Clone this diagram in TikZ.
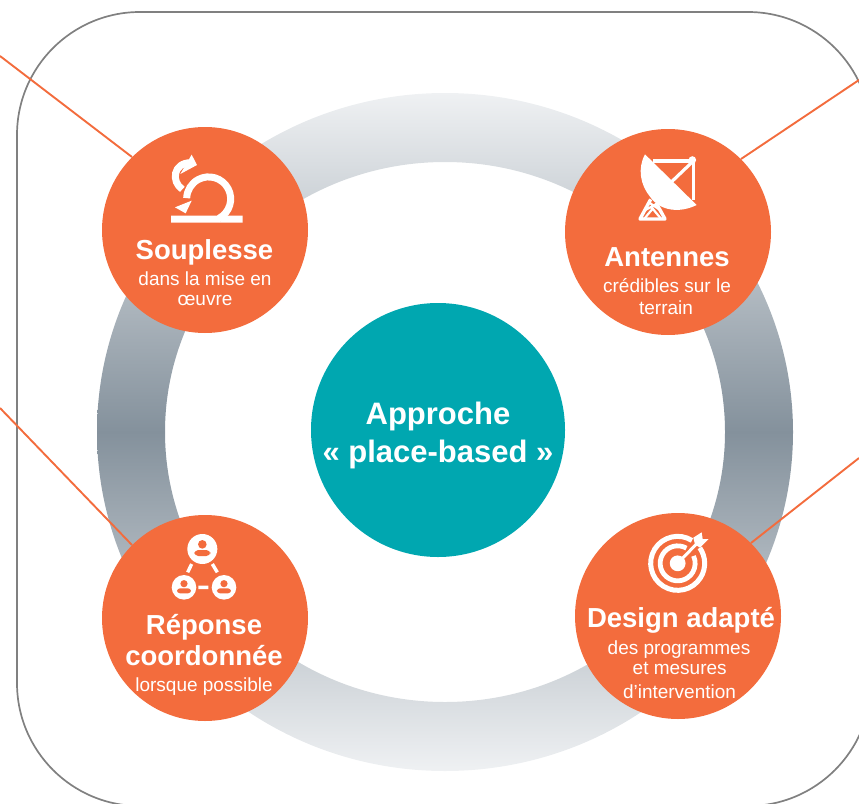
\documentclass[tikz,border=0pt]{standalone}
\usepackage{fontspec}
\setmainfont{Liberation Sans}
\definecolor{orangeC}{HTML}{F36C3D}
\definecolor{tealC}{HTML}{00A7B0}
\definecolor{ringD}{HTML}{84919C}
\definecolor{ringL}{HTML}{EFF1F3}
\definecolor{frameC}{HTML}{808080}
\tikzset{
  badge/.style={circle,fill=orangeC,draw=none,minimum size=206pt,inner sep=0pt},
  hub/.style={circle,fill=tealC,draw=none,minimum size=254pt,inner sep=0pt},
  leader/.style={draw=orangeC,line width=1.9pt},
  head/.style={anchor=base,text=white,font=\fontsize{27.5}{27.5}\selectfont\bfseries,inner sep=0pt},
  sub/.style={anchor=base,text=white,font=\fontsize{19}{19}\selectfont,inner sep=0pt},
  hubtxt/.style={anchor=base,text=white,font=\fontsize{31}{31}\selectfont\bfseries,inner sep=0pt}
}
\begin{document}
\begin{tikzpicture}[x=1pt,y=1pt,yscale=-1]
\useasboundingbox (0,0) rectangle (859,803);
\clip (0,0) rectangle (859,803);
% frame
\draw[frameC,line width=1.7pt,rounded corners=123pt] (17,12) rectangle (871,806);
% ring
\path[even odd rule,top color=ringL,bottom color=ringL,middle color=ringD]
  (445,432) ellipse [x radius=348,y radius=339]
  (445,432) ellipse [x radius=280,y radius=270];
% free ends
\coordinate (e1) at (0,56);
\coordinate (e2) at (859,80);
\coordinate (e3) at (0,408);
\coordinate (e4) at (859,458);
% badges
\node[badge] (sou) at (205,230) {};
\node[badge] (ant) at (668,232) {};
\node[badge] (rep) at (205,618) {};
\node[badge] (des) at (678,616) {};
\node[hub] (hubn) at (438,430) {};
% leaders
\draw[leader] (e1) -- (sou.135);
\draw[leader] (e2) -- (ant.45);
\draw[leader] (e3) -- (rep.135);
\draw[leader] (e4) -- (des.45);
% hub text
\node[hubtxt] (h1) at (438,424) {Approche};
\node[hubtxt] (h2) at (438,462) {« place-based »};
% badge text
\node[head] (t1) at (204.5,259) {Souplesse};
\node[sub] (t1a) at (205,285) {dans la mise en};
\node[sub] (t1b) at (205,305.7) {œuvre};
\node[head] (t2) at (667,266.7) {Antennes};
\node[sub] (t2a) at (667,292.7) {crédibles sur le};
\node[sub] (t2b) at (666,314) {terrain};
\node[head] (t3) at (204,634) {Réponse};
\node[head] (t3b) at (204,665.7) {coordonnée};
\node[sub] (t3a) at (204,691.7) {lorsque possible};
\node[head] (t4) at (681,627) {Design adapté};
\node[sub] (t4a) at (679,654) {des programmes};
\node[sub] (t4b) at (679.7,674.7) {et mesures};
\node[sub] (t4c) at (679.5,698) {d’intervention};
% icon 1: loop
\begin{scope}[shift={(165,150)},x=0.3333pt,y=0.3333pt]
  \fill[white] (18,197) -- (182,197) -- (162,218) -- (18,218) -- cycle;
  \fill[white] (182,197) -- (233,197) -- (233,218) -- (162,218) -- cycle;
  \draw[white,line width=7pt] (162,205) arc [start angle=62,end angle=-178,radius=22pt];
  \fill[white] (30,172) -- (80,152) -- (62,190) -- cycle;
  \draw[white,line width=7pt] (52,118) .. controls (18,95) and (24,38) .. (78,38);
  \fill[white] (80,14) -- (96,45) -- (46,72) -- cycle;
\end{scope}
% icon 2: antenna
\begin{scope}[shift={(630,150)},x=0.3333pt,y=0.3333pt]
  \draw[white,line width=3.2pt] (70,33) -- (190,33) -- (190,150);
  \draw[white,line width=3.2pt] (190,33) -- (122,98);
  \fill[white] (187,30) circle [radius=3.8pt];
  \fill[white] (45,13) -- (200,165) .. controls (150,190) and (90,184) .. (60,140)
     .. controls (31,105) and (22,55) .. cycle;
  \draw[white,line width=3.4pt,line join=round] (62,148) -- (30,207) -- (105,207) -- (78,158);
  \draw[white,line width=2.2pt] (46,180) -- (84,160) (90,180) -- (58,158) (44,205) -- (68,176) -- (92,205);
\end{scope}
% icon 3: target
\begin{scope}[shift={(640,525)},x=0.3333pt,y=0.3333pt]
  \draw[white,line width=5pt] (113,115) ++(-58:27pt) arc [start angle=-58,end angle=-395,radius=27pt];
  \draw[white,line width=4.8pt] (113,115) ++(-60:17.5pt) arc [start angle=-60,end angle=-385,radius=17.5pt];
  \fill[white] (113,115) circle [radius=7.9pt];
  \draw[white,line width=3pt] (113,115) -- (178,48);
  \fill[white] (160,38) -- (185,22) -- (188,42) -- (206,42) -- (180,68) -- (165,58) -- cycle;
\end{scope}
% icon 4: people
\begin{scope}[shift={(165,530)},x=0.3333pt,y=0.3333pt]
  \draw[white,line width=3.4pt] (80,102) -- (68,127) (142,102) -- (157,127) (100,172) -- (130,172);
  \fill[white] (112,57) circle [radius=15pt];
  \fill[white] (57,172) circle [radius=12.3pt];
  \fill[white] (177,172) circle [radius=12.3pt];
  \fill[orangeC] (112,43) circle [radius=4.3pt];
  \fill[orangeC,rounded corners=4pt] (88,78) -- (88,60) -- (136,60) -- (136,78) -- cycle;
  \fill[orangeC] (57,161) circle [radius=3.6pt];
  \fill[orangeC,rounded corners=3pt] (36,190) -- (36,175) -- (78,175) -- (78,190) -- cycle;
  \fill[orangeC] (177,161) circle [radius=3.6pt];
  \fill[orangeC,rounded corners=3pt] (156,190) -- (156,175) -- (198,175) -- (198,190) -- cycle;
\end{scope}
\end{tikzpicture}
\end{document}
